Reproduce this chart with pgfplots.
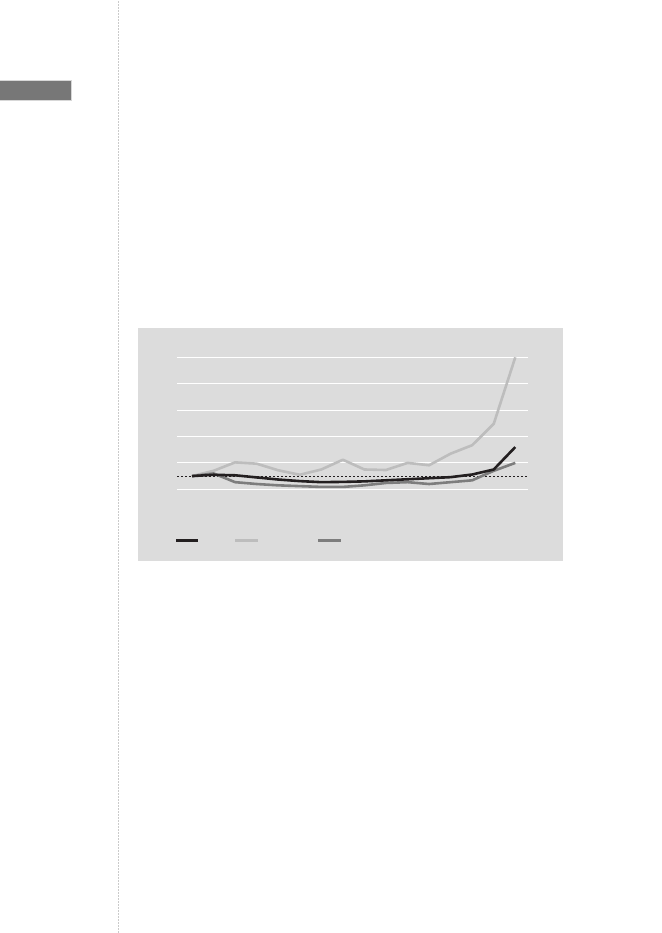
\documentclass[border=0pt]{standalone}
\usepackage{pgfplots}
\pgfplotsset{compat=1.18}
\definecolor{boxgray}{HTML}{DCDCDC}
\definecolor{tabgray}{HTML}{777777}
\definecolor{lineblack}{HTML}{231F20}
\definecolor{linelight}{HTML}{BDBDBD}
\definecolor{linedark}{HTML}{7D7D7D}

% index series, 16 periods
\pgfplotstableread{
x black light dark
0  0.50 0.50 0.50
1  0.55 0.70 0.60
2  0.53 1.02 0.27
3  0.45 0.97 0.20
4  0.37 0.72 0.15
5  0.31 0.55 0.12
6  0.27 0.75 0.09
7  0.28 1.12 0.09
8  0.30 0.75 0.15
9  0.34 0.73 0.24
10 0.38 1.00 0.27
11 0.42 0.91 0.20
12 0.46 1.35 0.27
13 0.56 1.67 0.34
14 0.75 2.48 0.70
15 1.60 5.00 1.00
}\series

\begin{document}
\begin{tikzpicture}
\begin{scope}[x=1pt,y=1pt]
\useasboundingbox (0,0) rectangle (661,933);
\fill[white] (0,0) rectangle (661,933);
% page furniture
\draw[linelight!80, line width=0.8pt, dash pattern=on 1.5pt off 1.5pt] (118.3,0) -- (118.3,933);
\fill[tabgray] (0,933-100) rectangle (71,933-80.7);
\draw[linelight!60, line width=0.6pt] (0,933-100) -- (71,933-100) -- (71,933-80.7) -- (0,933-80.7);
% chart panel
\fill[boxgray] (138,933-561.5) rectangle (563,933-328.5);
\coordinate (A) at (177,933-489.3);
% legend keys (labels are blank in the reference)
\draw[lineblack, line width=2.8pt] (176,933-540.3) -- (198.3,933-540.3);
\draw[linelight, line width=2.8pt] (235.3,933-540.3) -- (257.7,933-540.3);
\draw[linedark, line width=2.8pt] (318,933-540.3) -- (340.7,933-540.3);
\end{scope}

\begin{axis}[
  at={(A)}, anchor=south west,
  scale only axis, width=351pt, height=132pt,
  xmin=-0.696, xmax=15.59, ymin=0, ymax=5,
  axis line style={draw=none}, clip=false,
  ytick={0,1,2,3,4,5}, xtick=\empty,
  ymajorgrids, grid style={white, line width=1.1pt},
  yticklabels={}, major tick length=0pt, tick style={draw=none},
  every axis plot/.append style={line width=2.6pt, line join=round, mark=none},
]
\draw[lineblack, line width=0.8pt, dash pattern=on 2pt off 2pt]
  (rel axis cs:0,0.1) -- (rel axis cs:1,0.1);
\addplot[linelight] table[x=x, y=light] {\series};
\addplot[linedark] table[x=x, y=dark] {\series};
\addplot[lineblack] table[x=x, y=black] {\series};
\end{axis}
\end{tikzpicture}
\end{document}
